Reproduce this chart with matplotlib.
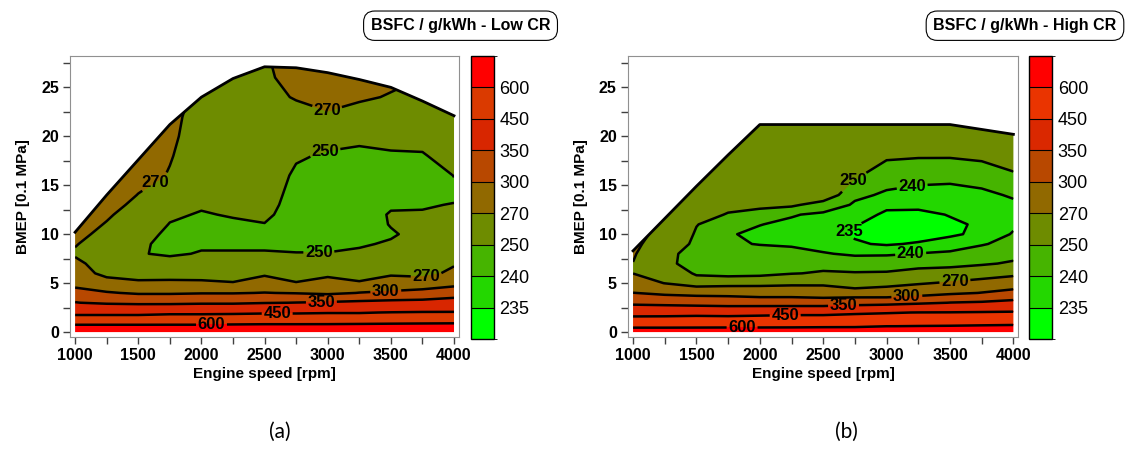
import matplotlib.pyplot as plt
import numpy as np
from matplotlib.colors import ListedColormap, BoundaryNorm
from matplotlib.patches import Polygon

plt.rcParams['font.family'] = ['Liberation Sans', 'DejaVu Sans']

# grid: engine speed [rpm] x BMEP [0.1 MPa]
speed = [1000, 1250, 1500, 1750, 2000, 2250, 2500, 2750, 3000, 3250, 3500, 3750, 4000]
bmep = [0, 0.6, 1.2, 2, 3, 4, 5, 6, 7, 8, 9, 10, 11, 12, 13, 14, 16, 18, 20, 22, 24, 26, 28]

# full load line (max BMEP) for each speed
env_low = [10.2, 14.0, 17.6, 21.2, 24.0, 25.9, 27.1, 27.0, 26.5, 25.8, 25.0, 23.6, 22.1]
env_high = [8.3, 11.6, 14.9, 18.1, 21.2, 21.2, 21.2, 21.2, 21.2, 21.2, 21.2, 20.7, 20.2]

# BSFC g/kWh, one list per speed (values along bmep)
bsfc_low = [
    [900, 640, 480, 436, 352, 318, 285, 277, 274, 268, 271, 274, 277, 280, 282, 285, 290, 292, 294, 296, 298, 300, 300],
    [900, 640, 480, 436, 340, 303, 276, 266, 262, 260, 262, 266, 269, 272, 276, 280, 285, 288, 290, 292, 294, 296, 298],
    [900, 640, 480, 436, 335, 296, 273, 263, 256, 251, 252, 256, 259, 263, 266, 269.5, 276, 282, 288, 290, 292, 294, 296],
    [900, 640, 485, 440, 335, 296, 273, 264, 256, 248, 247, 247, 249.5, 252, 257, 262, 269, 271, 272, 272, 273, 274, 275],
    [900, 640, 485, 440, 340, 298, 273, 263, 256, 251, 248, 246, 247, 249, 251.5, 254, 258, 262, 265, 267, 268, 269, 270],
    [900, 650, 485, 442, 340, 298, 271, 262, 256, 251, 248, 246, 248, 251, 253, 255, 258, 261, 263, 265, 266, 268, 270],
    [900, 660, 485, 445, 347, 301, 276, 268, 259, 251, 248, 246, 249.5, 253, 256, 258, 261, 263, 264, 265, 266, 267, 268],
    [900, 660, 485, 445, 351, 298, 271, 262, 255, 250.5, 247, 245, 244, 243, 243, 244, 247, 252, 258, 265, 271, 276, 280],
    [900, 660, 490, 447, 355, 292, 275, 267, 258, 250.5, 247, 244, 242, 241, 241, 241, 243, 248, 256, 268, 275, 279, 282],
    [900, 670, 490, 447, 360, 301, 272, 262, 256, 251.5, 249, 247, 245, 244, 243, 242, 243, 247, 253, 264, 272, 277, 280],
    [900, 680, 495, 452, 365, 305, 280, 267, 261, 254, 251, 249, 250.5, 251, 248.5, 246, 244, 248.5, 254, 262, 269, 273, 276],
    [900, 690, 497, 455, 368, 310, 283, 263, 258, 256, 254, 253, 252, 251, 249, 247, 245, 249, 254, 260, 266, 270, 274],
    [900, 700, 498, 455, 380, 320, 290, 275, 268, 263, 260, 257, 255, 253, 250.5, 248, 250.2, 255, 260, 264, 267, 270, 273],
]

bsfc_high = [
    [1000, 470, 465, 435, 329, 300.5, 282, 269.8, 269.6, 272, 274, 276, 278, 280, 282, 284, 288, 292, 295, 298, 300, 302, 304],
    [1000, 470, 465, 436, 321, 295, 269.5, 260, 252.5, 253, 260, 264, 267, 268, 270.5, 273, 276, 279, 282, 285, 288, 290, 292],
    [1000, 480, 466, 438, 312, 295, 256.5, 248.4, 246, 246, 247, 248.5, 250.5, 253, 256, 258, 262, 265, 268, 270, 272, 274, 276],
    [1000, 490, 466, 436, 304, 298, 258, 246.5, 243, 243, 240.6, 240.6, 243, 249.5, 252, 255, 260, 264, 267, 269, 270, 271, 272],
    [1000, 490, 468, 438, 304, 297, 259, 247, 244, 242, 239.8, 238.5, 240.2, 247, 252, 255, 258, 262, 265, 267, 268, 269, 270],
    [1000, 500, 470, 440, 304, 297, 262, 249.5, 245, 241, 239.6, 237.5, 238.5, 240.6, 252, 256, 259, 262, 264, 266, 267, 268, 269],
    [1000, 520, 470, 440, 304, 296, 262, 251, 247, 240.5, 237.5, 236, 236.5, 238.5, 245, 258, 259, 262, 264, 266, 267, 268, 269],
    [1000, 530, 470, 445, 318, 285, 253, 250.8, 244, 239, 235.5, 234.5, 235.5, 237, 239, 241.5, 252, 257, 261, 264, 266, 268, 270],
    [1000, 598, 480, 447, 326, 278.7, 265, 251, 245, 239, 234.5, 232, 232, 234.2, 236, 239, 243, 252, 257, 261, 264, 266, 268],
    [1000, 605, 482, 451, 339, 283, 268.5, 253, 247, 240.2, 235.5, 233, 232, 233.5, 236.5, 238, 242, 251, 256, 260, 263, 265, 267],
    [1000, 610, 485, 452, 351, 293, 272, 258, 245, 241, 237, 234.3, 234.0, 235.3, 236.5, 238, 241.5, 251, 256, 260, 263, 265, 267],
    [1000, 620, 488, 455, 355, 301, 276, 262, 248, 243, 239.5, 236, 235.8, 237, 238, 239, 242, 253, 257, 260, 263, 265, 267],
    [1000, 630, 490, 458, 365, 310, 283, 265, 252, 245, 242, 240.5, 239, 238.5, 239.2, 240.5, 249, 254, 258, 261, 264, 266, 268],
]

levels = [200, 235, 240, 250, 270, 300, 350, 450, 600, 1100]
tick_levels = [235, 240, 250, 270, 300, 350, 450, 600]

colors_low = ['#00ff00', '#23d700', '#46b400', '#6e8c00', '#916900',
              '#b84800', '#d82600', '#da3a00', '#ff0000']
colors_high = ['#00ff00', '#23d700', '#46b400', '#6e8c00', '#916900',
               '#b84800', '#da2800', '#ea3400', '#ff0000']

# where the contour labels sit
labels_low = [(2080, 0.75), (2600, 1.9), (2950, 3.1), (3460, 4.1), (3780, 5.7),
              (2930, 8.1), (2975, 18.6), (3000, 22.8), (1650, 15.0)]
labels_high = [(1860, 0.5), (2200, 1.75), (2660, 2.7), (3160, 3.55), (3540, 5.0),
               (3190, 7.95), (2705, 10.2), (3200, 15.0), (2740, 15.4)]


def panel(ax, cax, z, env, colors, lab_pos):
    Z = np.array(z).T
    cmap = ListedColormap(colors)
    norm = BoundaryNorm(levels, cmap.N)
    cf = ax.contourf(speed, bmep, Z, levels=levels, cmap=cmap, norm=norm)
    cs = ax.contour(speed, bmep, Z, levels=tick_levels, colors='k', linewidths=1.8)
    ax.clabel(cs, manual=lab_pos, inline=True, fmt='%d', fontsize=12,
              inline_spacing=2)
    for t in cs.labelTexts:
        t.set_fontweight('bold')
        t.set_rotation(0)

    # cut the map to the full load line
    xs = [speed[0]] + speed + [speed[-1]]
    ys = [0] + env + [0]
    clip = Polygon(np.column_stack([xs, ys]), closed=True,
                   transform=ax.transData, fc='none', ec='none')
    ax.add_patch(clip)
    cf.set_clip_path(clip)
    cs.set_clip_path(clip)
    ax.plot(speed, env, color='k', lw=2)

    ax.set_xlim(960, 4040)
    ax.set_ylim(-0.5, 28.2)
    ax.set_xticks(range(1000, 4001, 500))
    ax.set_xticks(range(1000, 4001, 250), minor=True)
    ax.set_yticks(range(0, 26, 5))
    ax.set_yticks(np.arange(0, 28, 2.5), minor=True)
    ax.tick_params(which='both', direction='out', color='#404040', width=1)
    ax.tick_params(which='major', length=5, labelsize=11.5, pad=3)
    ax.tick_params(which='minor', length=5)
    for lab in ax.get_xticklabels() + ax.get_yticklabels():
        lab.set_fontweight('bold')
    for s in ax.spines.values():
        s.set_color('#909090')
    ax.set_xlabel('Engine speed [rpm]', fontsize=11, fontweight='bold', labelpad=3)
    ax.set_ylabel('BMEP [0.1 MPa]', fontsize=11, fontweight='bold', labelpad=8)

    cb = plt.colorbar(cf, cax=cax, ticks=tick_levels, drawedges=True)
    cb.set_ticklabels([str(v) for v in tick_levels])
    cb.ax.tick_params(length=0, labelsize=13, pad=4)
    cb.outline.set_linewidth(1)
    cb.dividers.set_linewidth(0.8)


fig = plt.figure(figsize=(11.26, 4.51), dpi=100)

ax1 = fig.add_axes([0.0622, 0.2528, 0.3455, 0.623])
cax1 = fig.add_axes([0.4183, 0.2483, 0.0204, 0.6275])
ax2 = fig.add_axes([0.5577, 0.2528, 0.3468, 0.623])
cax2 = fig.add_axes([0.9141, 0.2483, 0.0204, 0.6275])

panel(ax1, cax1, bsfc_low, env_low, colors_low, labels_low)
panel(ax2, cax2, bsfc_high, env_high, colors_high, labels_high)

box = dict(boxstyle='round,pad=0.45,rounding_size=0.7', fc='white', ec='black', lw=0.8)
fig.text(0.409, 0.943, 'BSFC / g/kWh - Low CR', ha='center', va='center',
         fontsize=11.5, fontweight='bold', bbox=box)
fig.text(0.9103, 0.943, 'BSFC / g/kWh - High CR', ha='center', va='center',
         fontsize=11.5, fontweight='bold', bbox=box)

fig.text(0.2487, 0.042, '(a)', ha='center', va='center', fontsize=15, family='Lato')
fig.text(0.752, 0.042, '(b)', ha='center', va='center', fontsize=15, family='Lato')

plt.savefig('out.png', dpi=100)
